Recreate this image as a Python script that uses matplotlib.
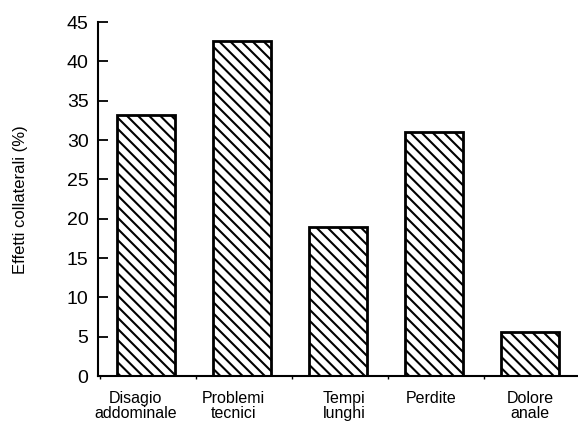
import matplotlib
matplotlib.use("Agg")
import matplotlib.pyplot as plt
import matplotlib.transforms as mtransforms
import numpy as np

categories = ["Disagio\naddominale", "Problemi\ntecnici", "Tempi\nlunghi", "Perdite", "Dolore\nanale"]
values = [33.2, 42.6, 19.0, 31.1, 5.6]
yticks = [0, 5, 10, 15, 20, 25, 30, 35, 40, 45]
ylabel = "Effetti collaterali (%)"

plt.rcParams['font.family'] = ['Liberation Sans', 'DejaVu Sans']
plt.rcParams['hatch.linewidth'] = 1.5
plt.rcParams['hatch.color'] = 'black'

fig = plt.figure(figsize=(5.78, 4.26), dpi=100)
ax = fig.add_axes([0.170, 0.117, 0.830, 0.831])

x = np.arange(len(categories))
ax.bar(x, values, width=0.6, facecolor='white', edgecolor='black',
       linewidth=2, hatch='\\\\\\')

ax.set_xlim(-0.5, len(categories) - 0.5)
ax.set_ylim(0, 45)
ax.set_yticks(yticks)
ax.set_yticklabels([str(t) for t in yticks], fontsize=14)
ax.tick_params(axis='y', direction='in', length=7, width=1.3, pad=7)

ax.set_xticks(x)
ax.set_xticklabels(categories, fontsize=11.5, linespacing=1.0)
ax.tick_params(axis='x', which='major', length=0, pad=11)
ax.set_xticks(np.arange(len(categories)) - 0.5 + 0.02, minor=True)
ax.tick_params(axis='x', which='minor', direction='out', length=2, width=1)

# small horizontal shifts of labels (pixels) as in the original layout
shifts = [-11, -9, 6, -3, 0]
for lbl, dx in zip(ax.get_xticklabels(), shifts):
    lbl.set_transform(lbl.get_transform() +
                      mtransforms.ScaledTranslation(dx / 100, 0, fig.dpi_scale_trans))

for s in ['top', 'right']:
    ax.spines[s].set_visible(False)
ax.spines['left'].set_linewidth(1.5)
ax.spines['bottom'].set_linewidth(1.5)

ax.set_ylabel(ylabel, fontsize=12, labelpad=28)

fig.savefig("out.png", dpi=100)
